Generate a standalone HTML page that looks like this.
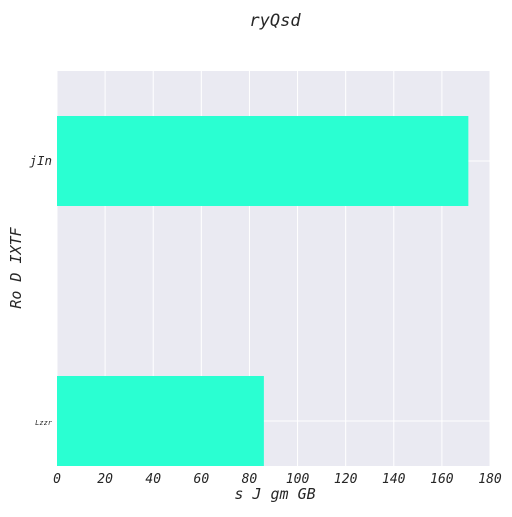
<!DOCTYPE html>
<html><head><meta charset="utf-8"><style>
body{margin:0;background:#fff;width:512px;height:512px;overflow:hidden}
text{font-family:"DejaVu Sans Mono","Liberation Mono",monospace;font-style:italic;fill:#262626}
</style></head><body>
<svg id="c" width="512" height="512"></svg>
<script>
const categories=["jIn","Lzzr"];
const values=[171,86];
const xTicks=[0,20,40,60,80,100,120,140,160,180];
const ns="http://www.w3.org/2000/svg";
const svg=document.getElementById('c');
const L=57,R=490,T=71,B=466;
const x=v=>L+(v-0)/(180-0)*(R-L);
const catPos=[161,421];
const y=i=>catPos[i];
function mk(tag,attrs,parent){const e=document.createElementNS(ns,tag);for(const k in attrs)e.setAttribute(k,attrs[k]);(parent||svg).appendChild(e);return e;}
const bg=mk('rect',{x:L,y:T,width:R-L,height:B-T,fill:'#eaeaf2'});


xTicks.forEach(t=>{
  const g=mk('line',{x1:x(t),x2:x(t),y1:T,y2:B,stroke:'#fff','stroke-width':1});
  
  
  const tl=mk('text',{x:x(t),y:483,'text-anchor':'middle','font-size':13});
  tl.textContent=t;
  
  
});
categories.forEach((c,i)=>{
  const g=mk('line',{x1:L,x2:R,y1:y(i),y2:y(i),stroke:'#fff','stroke-width':1});
  
  
});
categories.forEach((c,i)=>{
  const b=mk('rect',{x:x(0),y:y(i)-45,width:x(values[i])-x(0),height:90,fill:'#2affd2'});
  
  
  const tl=mk('text',{x:52,y:y(i)+4,'text-anchor':'end','font-size':i==0?12.5:7});
  tl.textContent=c;
  
  
});
const t=mk('text',{x:275,y:26,'text-anchor':'middle','font-size':17});
t.textContent='ryQsd';


const xt=mk('text',{x:275,y:499,'text-anchor':'middle','font-size':15});
xt.textContent='s J gm GB';


const yt=mk('text',{x:0,y:0,'text-anchor':'middle','font-size':15,transform:'translate(21,268) rotate(-90)'});
yt.textContent='Ro D IXTF';


</script>
</body></html>
